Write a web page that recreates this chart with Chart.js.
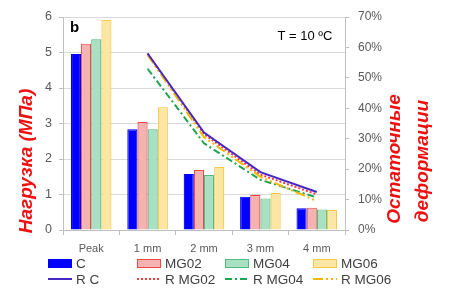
<!DOCTYPE html>
<html><head><meta charset="utf-8">
<script src="https://cdn.jsdelivr.net/npm/chart.js@4/dist/chart.umd.min.js"></script>
<style>
html,body{margin:0;padding:0;background:#fff;}
#wrap{position:relative;width:450px;height:298px;overflow:hidden;}
#c{position:absolute;left:0;top:0;}
.lg{position:absolute;font:13.5px "Liberation Sans",Arial,sans-serif;color:#404040;display:flex;align-items:center;height:16px;white-space:nowrap;}
.sw{width:24px;height:9px;box-sizing:border-box;margin-right:4px;}
.ls{width:24px;height:8px;margin-right:4px;}
</style></head><body>
<div id="wrap"><canvas id="c" width="450" height="298" style="width:450px;height:298px"></canvas><div id="legend"></div></div>
<script>
const categories = ['Peak', '1 mm', '2 mm', '3 mm', '4 mm'];
const loadC    = [4.96, 2.84, 1.58, 0.94, 0.61];
const loadMG02 = [5.25, 3.04, 1.69, 0.99, 0.63];
const loadMG04 = [5.37, 2.84, 1.55, 0.89, 0.58];
const loadMG06 = [5.92, 3.46, 1.78, 1.05, 0.56];
const resC    = [null, 0.58, 0.32, 0.19, 0.125];
const resMG02 = [null, 0.58, 0.315, 0.182, 0.117];
const resMG04 = [null, 0.53, 0.285, 0.165, 0.107];
const resMG06 = [null, 0.575, 0.305, 0.175, 0.095];
const leftTicks = [0, 1, 2, 3, 4, 5, 6];
const rightTicks = [0, 0.1, 0.2, 0.3, 0.4, 0.5, 0.6, 0.7];

const barNames = ['C', 'MG02', 'MG04', 'MG06'];
const barFill = ['#0000ff', '#f4b2b0', '#a9dfc3', '#fbe6a4'];
const barBorder = ['#0000ff', '#f04848', '#4fbb7d', '#f5c94a'];
const lineNames = ['R C', 'R MG02', 'R MG04', 'R MG06'];
const lineColor = ['#4528c4', '#ff3b3b', '#1fa454', '#f3b800'];
const lineDash = [[], [2, 2], [7, 3, 2, 3], [10, 3, 2, 3, 2, 3]];

const barData = [loadC, loadMG02, loadMG04, loadMG06];
const lineData = [resC, resMG02, resMG04, resMG06];

const datasets = [];
barData.forEach((d, i) => datasets.push({
  type: 'bar', label: barNames[i], data: d, yAxisID: 'y',
  backgroundColor: barFill[i], borderColor: barBorder[i], borderWidth: 1.2,
  categoryPercentage: 0.72, barPercentage: 1.0, order: 10
}));
const lineOrder = [1, 4, 3, 2];
lineData.forEach((d, i) => datasets.push({
  type: 'line', label: lineNames[i], data: d, yAxisID: 'y1',
  borderColor: lineColor[i], backgroundColor: lineColor[i], borderWidth: 2,
  borderDash: lineDash[i], pointRadius: 0, tension: 0, fill: false, order: lineOrder[i]
}));

const GRID = '#d9d9d9';
const AXIS = '#c0c0c0';
const TICKC = '#595959';

const textPlugin = {
  id: 'texts',
  afterDraw(chart) {
    const ctx = chart.ctx;
    ctx.save();
    ctx.fillStyle = '#ee1111';
    ctx.font = 'italic bold 19px "Liberation Sans", Arial, sans-serif';
    ctx.textAlign = 'center';
    ctx.textBaseline = 'middle';
    const t = [['Нагрузка (МПа)', 27, 161], ['Остаточные', 395, 159], ['деформации', 423, 161]];
    t.forEach(([s, x, y]) => {
      ctx.save(); ctx.translate(x, y); ctx.rotate(-Math.PI / 2); ctx.fillText(s, 0, 0); ctx.restore();
    });
    ctx.fillStyle = '#000';
    ctx.font = 'bold 15px "Liberation Sans", Arial, sans-serif';
    ctx.textAlign = 'left';
    ctx.fillText('b', 70, 28);
    ctx.font = '13px "Liberation Sans", Arial, sans-serif';
    ctx.textAlign = 'center';
    ctx.fillText('T = 10 ºC', 305, 36);
    ctx.restore();
  }
};

new Chart(document.getElementById('c'), {
  data: { labels: categories, datasets },
  options: {
    responsive: false, animation: false, devicePixelRatio: 1,
    layout: { padding: { top: 17, left: 0, right: 0, bottom: 0 } },
    plugins: { legend: { display: false }, tooltip: { enabled: false } },
    scales: {
      x: {
        afterFit(s) { s.height = 68; },
        grid: { display: true, drawOnChartArea: false, drawTicks: true, tickLength: 5, color: AXIS, offset: true },
        border: { display: true, color: AXIS },
        ticks: { color: TICKC, padding: 7, font: { family: 'Liberation Sans', size: 11 } }
      },
      y: {
        position: 'left', min: 0, max: 6,
        afterFit(s) { s.width = 63; },
        afterBuildTicks(s) { s.ticks = leftTicks.map(v => ({ value: v })); },
        grid: { color: GRID, tickColor: AXIS, drawTicks: true, tickLength: 4 },
        border: { display: true, color: AXIS },
        ticks: { color: TICKC, padding: 7, font: { family: 'Liberation Sans', size: 12.5 } }
      },
      y1: {
        position: 'right', min: 0, max: 0.7,
        afterFit(s) { s.width = 105; },
        afterBuildTicks(s) { s.ticks = rightTicks.map(v => ({ value: v })); },
        grid: { drawOnChartArea: false, tickColor: AXIS, drawTicks: true, tickLength: 4 },
        border: { display: true, color: AXIS },
        ticks: { color: TICKC, padding: 9, font: { family: 'Liberation Sans', size: 12 },
          callback: v => Math.round(v * 100) + '%' }
      }
    }
  },
  plugins: [textPlugin]
});

// HTML legend
const legend = document.getElementById('legend');
const colX = [48, 137, 225, 313];
barNames.forEach((n, i) => {
  const d = document.createElement('div');
  d.className = 'lg'; d.style.left = colX[i] + 'px'; d.style.top = (263 - 8) + 'px';
  d.innerHTML = '<div class="sw" style="background:' + barFill[i] + ';border:1.5px solid ' + barBorder[i] + '"></div>' + n;
  legend.appendChild(d);
});
lineNames.forEach((n, i) => {
  const d = document.createElement('div');
  d.className = 'lg'; d.style.left = colX[i] + 'px'; d.style.top = (279 - 8) + 'px';
  const dash = lineDash[i].length ? ' stroke-dasharray="' + lineDash[i].join(',') + '"' : '';
  d.innerHTML = '<svg class="ls" width="24" height="8"><line x1="0" y1="4" x2="24" y2="4" stroke="' + lineColor[i] + '" stroke-width="2"' + dash + '/></svg>' + n;
  legend.appendChild(d);
});
</script>
</body></html>
